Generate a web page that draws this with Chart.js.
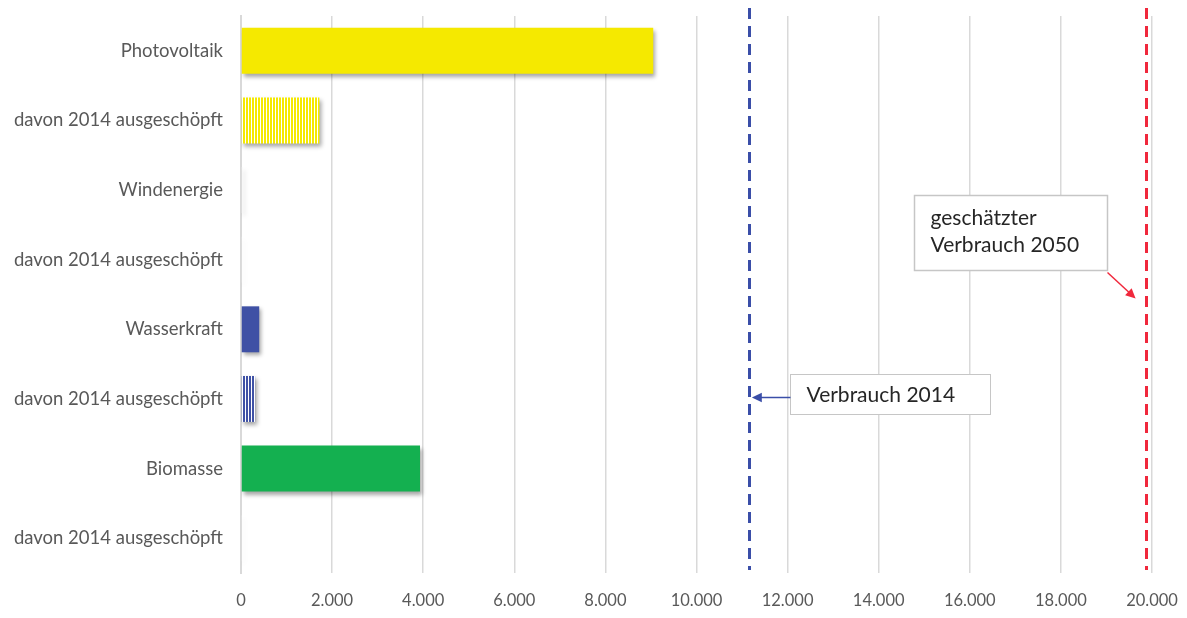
<!DOCTYPE html>
<html>
<head>
<meta charset="utf-8">
<script src="https://cdn.jsdelivr.net/npm/chart.js@4/dist/chart.umd.min.js"></script>
<style>
  html, body { margin: 0; padding: 0; background: #fff; }
  #wrap { width: 1187px; height: 618px; position: relative; }
</style>
</head>
<body>
<div id="wrap"><canvas id="chart" width="1187" height="618"></canvas></div>
<script>
// categories and values
const categories = [
    "Photovoltaik", "davon 2014 ausgeschöpft",
    "Windenergie", "davon 2014 ausgeschöpft",
    "Wasserkraft", "davon 2014 ausgeschöpft",
    "Biomasse", "davon 2014 ausgeschöpft"
];
const values = [9050, 1720, 30, 20, 400, 310, 3930, 20];
const xTicks = [0, 2000, 4000, 6000, 8000, 10000, 12000, 14000, 16000, 18000, 20000];
const verbrauch2014 = 11150;
const verbrauch2050 = 19860;

const FONT = "Lato, 'Open Sans', sans-serif";

// striped fill for the "davon" bars
function stripes(color, band, gap) {
    const c = document.createElement("canvas");
    c.width = band + gap;
    c.height = 4;
    const g = c.getContext("2d");
    g.fillStyle = "#ffffff";
    g.fillRect(0, 0, c.width, c.height);
    g.fillStyle = color;
    g.fillRect(0, 0, band, c.height);
    return g.createPattern(c, "repeat");
}

const yellow = "#f5e900";
const blue = "#3f51a5";
const green = "#14b050";
const pale = "#f4f4f4";
const colors = [yellow, stripes(yellow, 2, 1), pale, pale, blue, stripes(blue, 2, 1), green, pale];

// drop shadow under bars
const shadowPlugin = {
    id: "barShadow",
    beforeDatasetDraw(chart) {
        const ctx = chart.ctx;
        ctx.save();
        ctx.shadowColor = "rgba(0,0,0,0.35)";
        ctx.shadowBlur = 4;
        ctx.shadowOffsetX = 2;
        ctx.shadowOffsetY = 3;
    },
    afterDatasetDraw(chart) {
        chart.ctx.restore();
    }
};

function arrow(ctx, x1, y1, x2, y2, color) {
    const a = Math.atan2(y2 - y1, x2 - x1);
    const h = 11;
    ctx.strokeStyle = color;
    ctx.fillStyle = color;
    ctx.lineWidth = 1.5;
    ctx.beginPath();
    ctx.moveTo(x1, y1);
    ctx.lineTo(x2 - Math.cos(a) * h * 0.8, y2 - Math.sin(a) * h * 0.8);
    ctx.stroke();
    ctx.beginPath();
    ctx.moveTo(x2, y2);
    ctx.lineTo(x2 - h * Math.cos(a - 0.45), y2 - h * Math.sin(a - 0.45));
    ctx.lineTo(x2 - h * Math.cos(a + 0.45), y2 - h * Math.sin(a + 0.45));
    ctx.closePath();
    ctx.fill();
}

// reference lines + callout boxes
const refLinePlugin = {
    id: "refLines",
    afterDatasetsDraw(chart) {
        const ctx = chart.ctx;
        const x = chart.scales.x;
        const area = chart.chartArea;

        const lines = [
            { v: verbrauch2014, color: "#3a4ea8" },
            { v: verbrauch2050, color: "#f0283c" }
        ];
        ctx.save();
        lines.forEach(l => {
            const px = Math.round(x.getPixelForValue(l.v)) + 0.5;
            ctx.strokeStyle = l.color;
            ctx.lineWidth = 3;
            ctx.setLineDash([11, 7]);
            ctx.beginPath();
            ctx.moveTo(px, area.top - 8);
            ctx.lineTo(px, area.bottom - 3);
            ctx.stroke();
        });
        ctx.setLineDash([]);

        // box: Verbrauch 2014
        const b1x = Math.round(x.getPixelForValue(12050)) + 0.5;
        const b1r = Math.round(x.getPixelForValue(16450)) + 0.5;
        const b1y = 374.5, b1h = 40;
        ctx.fillStyle = "#fff";
        ctx.fillRect(b1x, b1y, b1r - b1x, b1h);
        ctx.strokeStyle = "#c6c6c6";
        ctx.lineWidth = 1;
        ctx.strokeRect(b1x, b1y, b1r - b1x, b1h);
        ctx.fillStyle = "#262626";
        ctx.font = "21px " + FONT;
        ctx.textBaseline = "middle";
        ctx.textAlign = "left";
        ctx.fillText("Verbrauch 2014", b1x + 16, b1y + 21);
        arrow(ctx, b1x, b1y + 23, x.getPixelForValue(verbrauch2014) + 3, b1y + 23, "#3a4ea8");

        // box: geschätzter Verbrauch 2050
        const b2x = Math.round(x.getPixelForValue(14775)) + 0.5;
        const b2r = Math.round(x.getPixelForValue(19010)) + 0.5;
        const b2y = 195.5, b2h = 75;
        ctx.fillStyle = "#fff";
        ctx.fillRect(b2x, b2y, b2r - b2x, b2h);
        ctx.strokeStyle = "#c6c6c6";
        ctx.strokeRect(b2x, b2y, b2r - b2x, b2h);
        ctx.fillStyle = "#262626";
        ctx.fillText("geschätzter", b2x + 16, b2y + 23);
        ctx.fillText("Verbrauch 2050", b2x + 16, b2y + 50);
        arrow(ctx, b2r, b2y + b2h + 2, x.getPixelForValue(verbrauch2050) - 10, b2y + b2h + 28, "#f0283c");
        ctx.restore();
    }
};

const ctx = document.getElementById("chart").getContext("2d");
new Chart(ctx, {
    type: "bar",
    data: {
        labels: categories,
        datasets: [{
            data: values,
            backgroundColor: colors,
            borderWidth: 0,
            barPercentage: 0.66,
            categoryPercentage: 1.0
        }]
    },
    options: {
        indexAxis: "y",
        responsive: false,
        animation: false,
        layout: { padding: { left: 0, right: 35, top: 16, bottom: 0 } },
        plugins: {
            legend: { display: false },
            tooltip: { enabled: false }
        },
        scales: {
            x: {
                min: 0,
                max: 20000,
                afterBuildTicks: s => { s.ticks = xTicks.map(v => ({ value: v })); },
                afterFit: s => { s.height = 45; s.paddingLeft = 0; s.paddingRight = 0; },
                grid: { color: "#d9d9d9", lineWidth: 1.5, drawTicks: false },
                border: { display: false },
                ticks: {
                    padding: 18,
                    color: "#595959",
                    font: { family: FONT, size: 16.5 },
                    callback: v => v.toLocaleString("de-DE")
                }
            },
            y: {
                afterFit: s => { s.width = 241; s.paddingTop = 0; s.paddingBottom = 0; },
                grid: { display: false },
                border: { display: true, color: "#d9d9d9", width: 2 },
                ticks: {
                    padding: 10,
                    color: "#595959",
                    font: { family: FONT, size: 18.5 }
                }
            }
        }
    },
    plugins: [shadowPlugin, refLinePlugin]
});
</script>
</body>
</html>
